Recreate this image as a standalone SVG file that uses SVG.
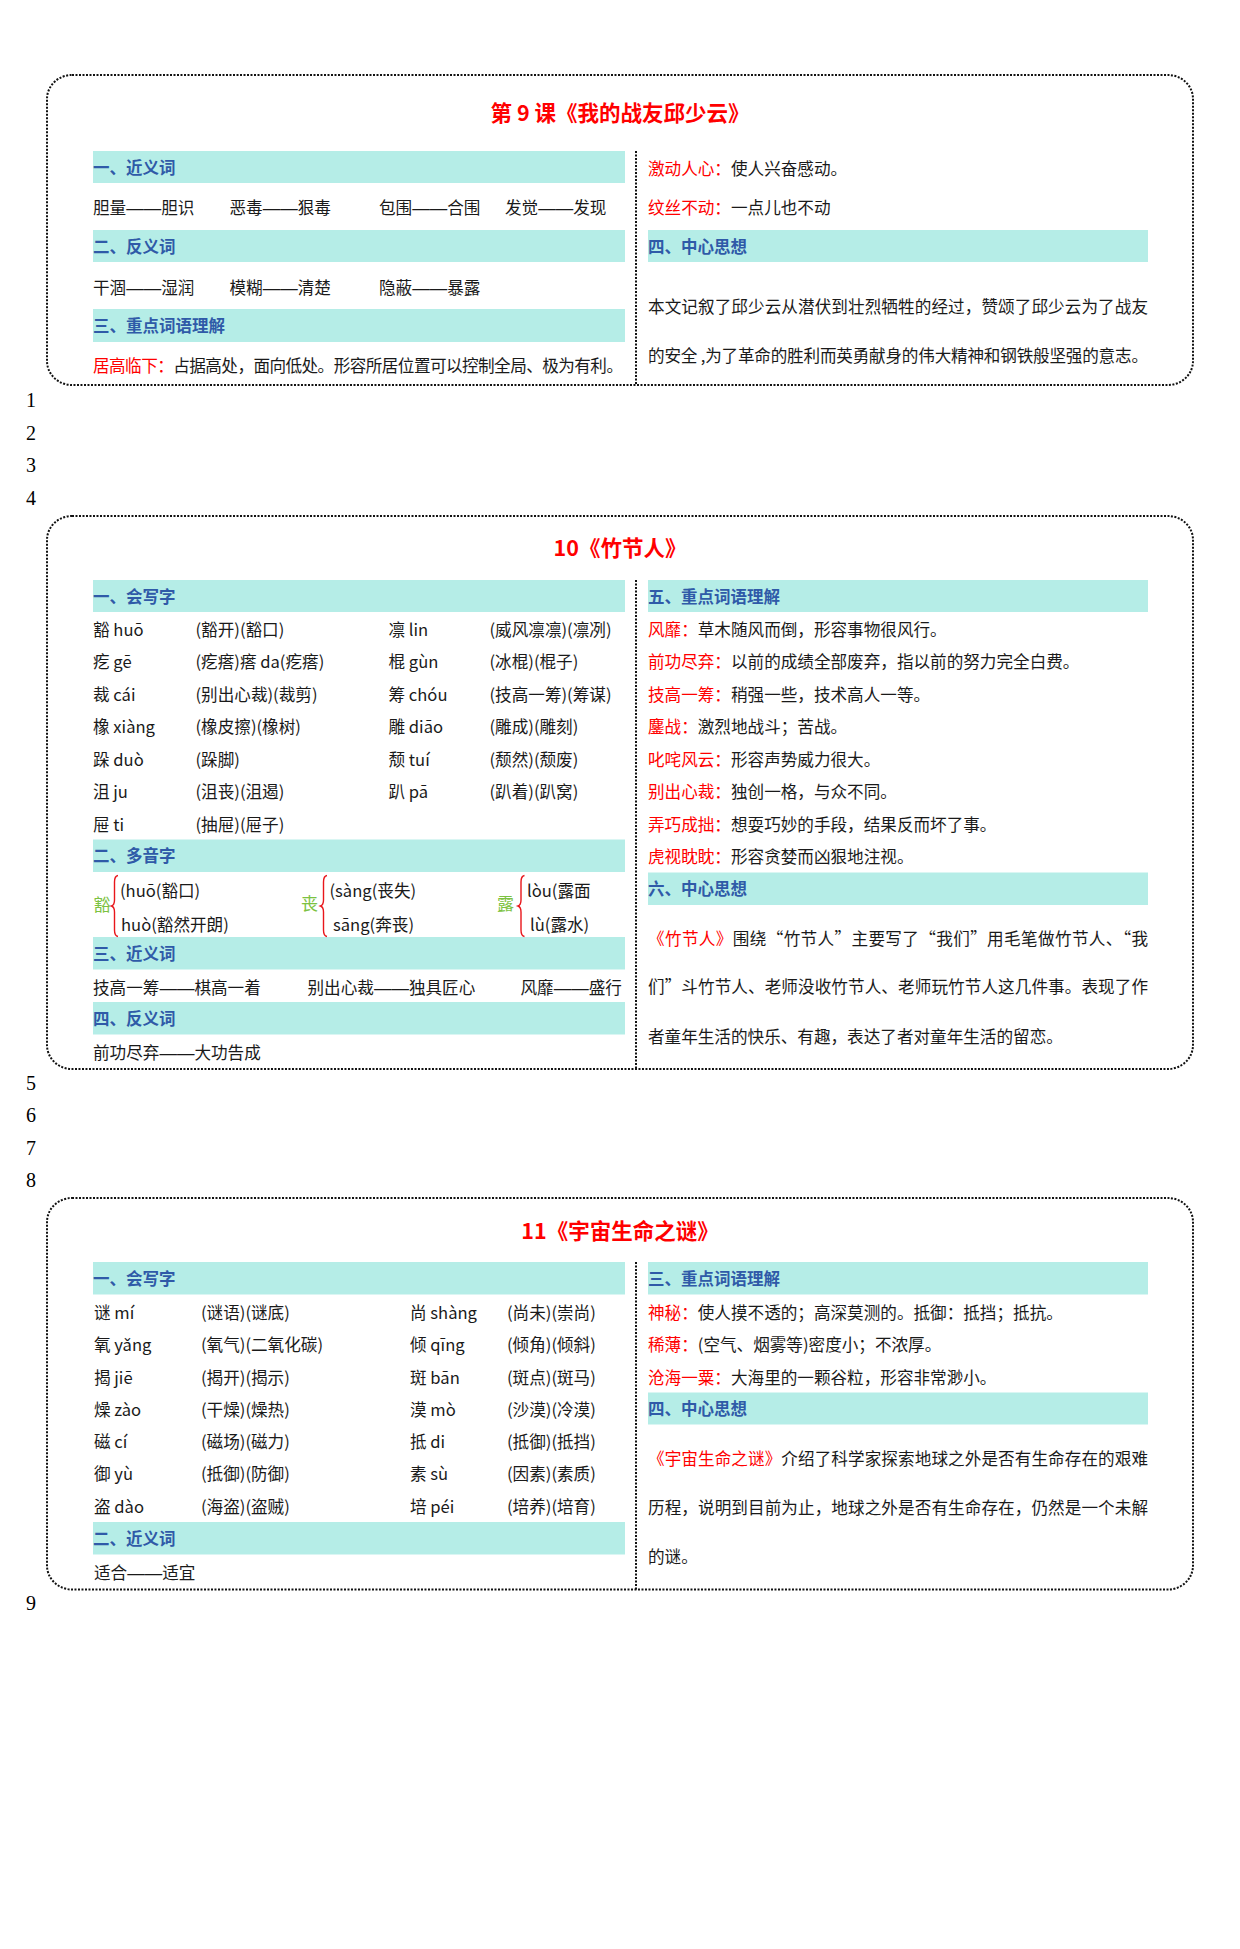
<svg xmlns="http://www.w3.org/2000/svg" width="1240" height="1949" viewBox="0 0 1240 1949">
<style>
text{font-family:"Noto Sans CJK SC","Noto Sans",sans-serif;font-size:16.6px;fill:#1a1a1a}
.d{font-family:"Liberation Sans",sans-serif;font-size:17.5px}
.h{font-weight:bold;fill:#2f5aa8;font-size:16.5px}
.r{fill:#ff0000}
.g{fill:#7cc242;font-size:17px}
.title{font-size:21.5px;font-weight:bold;fill:#ff0000;text-anchor:middle}
.band{fill:#b5ede7}
.box{fill:none;stroke:#111;stroke-width:2;stroke-dasharray:2 1.5}
.div{stroke:#111;stroke-width:2;stroke-dasharray:2 1.5}
.br{fill:none;stroke:#e8161b;stroke-width:1.4}
.pn{font-family:"Liberation Serif",serif;font-size:20px;fill:#000}
</style>
<rect width="1240" height="1949" fill="#fff"/>

<g id="page-numbers">
<text class="pn" x="26" y="407">1</text>
<text class="pn" x="26" y="439.5">2</text>
<text class="pn" x="26" y="472">3</text>
<text class="pn" x="26" y="504.5">4</text>
<text class="pn" x="26" y="1090">5</text>
<text class="pn" x="26" y="1122">6</text>
<text class="pn" x="26" y="1154.5">7</text>
<text class="pn" x="26" y="1187">8</text>
<text class="pn" x="26" y="1610">9</text>
</g>

<!-- Lesson 9 -->
<g id="lesson9">
<rect class="box" x="47" y="75" width="1146" height="310" rx="25" ry="24"/>
<line class="div" x1="636" y1="151" x2="636" y2="385"/>
<text class="title" x="620" y="120.5">第 9 课《我的战友邱少云》</text>
<rect class="band" x="93" y="151" width="532" height="32"/>
<rect class="band" x="93" y="230" width="532" height="32"/>
<rect class="band" x="93" y="309" width="532" height="33"/>
<rect class="band" x="648" y="230" width="500" height="32"/>
<text class="h" x="93" y="173.5">一、近义词</text>
<text x="93" y="214">胆量<tspan class="d">——</tspan>胆识</text>
<text x="229.5" y="214">恶毒<tspan class="d">——</tspan>狠毒</text>
<text x="379" y="214">包围<tspan class="d">——</tspan>合围</text>
<text x="505" y="214">发觉<tspan class="d">——</tspan>发现</text>
<text class="h" x="93" y="252.5">二、反义词</text>
<text x="93" y="294">干涸<tspan class="d">——</tspan>湿润</text>
<text x="229.5" y="294">模糊<tspan class="d">——</tspan>清楚</text>
<text x="379" y="294">隐蔽<tspan class="d">——</tspan>暴露</text>
<text class="h" x="93" y="332">三、重点词语理解</text>
<text x="93" y="372" textLength="530" lengthAdjust="spacing"><tspan class="r">居高临下：</tspan>占据高处，面向低处。形容所居位置可以控制全局、极为有利。</text>
<text x="648" y="174.5"><tspan class="r">激动人心：</tspan>使人兴奋感动。</text>
<text x="648" y="214"><tspan class="r">纹丝不动：</tspan>一点儿也不动</text>
<text class="h" x="648" y="252.5">四、中心思想</text>
<text x="648" y="313" textLength="500" lengthAdjust="spacing">本文记叙了邱少云从潜伏到壮烈牺牲的经过，赞颂了邱少云为了战友</text>
<text x="648" y="362" textLength="500" lengthAdjust="spacing">的安全 ,为了革命的胜利而英勇献身的伟大精神和钢铁般坚强的意志。</text>
</g>

<!-- Lesson 10 -->
<g id="lesson10">
<rect class="box" x="47" y="516" width="1146" height="553" rx="25" ry="24"/>
<line class="div" x1="636" y1="580" x2="636" y2="1069"/>
<text class="title" x="620" y="555.5">10《竹节人》</text>
<rect class="band" x="93" y="580" width="532" height="32"/>
<rect class="band" x="93" y="839.5" width="532" height="32.5"/>
<rect class="band" x="93" y="937" width="532" height="32.5"/>
<rect class="band" x="93" y="1002" width="532" height="32.5"/>
<rect class="band" x="648" y="580" width="500" height="32"/>
<rect class="band" x="648" y="872.5" width="500" height="32.5"/>

<text class="h" x="93" y="602.5">一、会写字</text>
<text x="93" y="635.5">豁 huō</text><text x="195.5" y="635.5">(豁开)(豁口)</text><text x="388.5" y="635.5">凛 lin</text><text x="489.5" y="635.5">(威风凛凛)(凛冽)</text>
<text x="93" y="668">疙 gē</text><text x="195.5" y="668">(疙瘩)瘩 da(疙瘩)</text><text x="388.5" y="668">棍 gùn</text><text x="489.5" y="668">(冰棍)(棍子)</text>
<text x="93" y="700.5">裁 cái</text><text x="195.5" y="700.5">(别出心裁)(裁剪)</text><text x="388.5" y="700.5">筹 chóu</text><text x="489.5" y="700.5">(技高一筹)(筹谋)</text>
<text x="93" y="733">橡 xiàng</text><text x="195.5" y="733">(橡皮擦)(橡树)</text><text x="388.5" y="733">雕 diāo</text><text x="489.5" y="733">(雕成)(雕刻)</text>
<text x="93" y="765.5">跺 duò</text><text x="195.5" y="765.5">(跺脚)</text><text x="388.5" y="765.5">颓 tuí</text><text x="489.5" y="765.5">(颓然)(颓废)</text>
<text x="93" y="798">沮 ju</text><text x="195.5" y="798">(沮丧)(沮遏)</text><text x="388.5" y="798">趴 pā</text><text x="489.5" y="798">(趴着)(趴窝)</text>
<text x="93" y="830.5">屉 ti</text><text x="195.5" y="830.5">(抽屉)(屉子)</text>

<text class="h" x="93" y="862">二、多音字</text>
<text class="g" x="93.5" y="911">豁</text>
<path class="br" d="M118,875.5 Q114.5,876 114.5,882 L114.5,900 Q114.5,905 111.5,906 Q114.5,907 114.5,912 L114.5,930 Q114.5,936 118,936.5"/>
<text x="120" y="897">(huō(豁口)</text>
<text x="121" y="930.5">huò(豁然开朗)</text>
<text class="g" x="301" y="909.5">丧</text>
<path class="br" d="M327,875.5 Q323.5,876 323.5,882 L323.5,900 Q323.5,905 320.5,906 Q323.5,907 323.5,912 L323.5,930 Q323.5,936 327,936.5"/>
<text x="329.5" y="897">(sàng(丧失)</text>
<text x="333" y="930.5">sāng(奔丧)</text>
<text class="g" x="497" y="909.5">露</text>
<path class="br" d="M524.5,875.5 Q521,876 521,882 L521,900 Q521,905 518,906 Q521,907 521,912 L521,930 Q521,936 524.5,936.5"/>
<text x="527" y="897">lòu(露面</text>
<text x="530" y="930.5">lù(露水)</text>

<text class="h" x="93" y="959.5">三、近义词</text>
<text x="93" y="993.5">技高一筹<tspan class="d">——</tspan>棋高一着</text>
<text x="307.5" y="993.5">别出心裁<tspan class="d">——</tspan>独具匠心</text>
<text x="520.5" y="993.5">风靡<tspan class="d">——</tspan>盛行</text>
<text class="h" x="93" y="1024.5">四、反义词</text>
<text x="93" y="1058.5">前功尽弃<tspan class="d">——</tspan>大功告成</text>

<text class="h" x="648" y="602.5">五、重点词语理解</text>
<text x="648" y="635.5"><tspan class="r">风靡：</tspan>草木随风而倒，形容事物很风行。</text>
<text x="648" y="668"><tspan class="r">前功尽弃：</tspan>以前的成绩全部废弃，指以前的努力完全白费。</text>
<text x="648" y="700.5"><tspan class="r">技高一筹：</tspan>稍强一些，技术高人一等。</text>
<text x="648" y="733"><tspan class="r">鏖战：</tspan>激烈地战斗；苦战。</text>
<text x="648" y="765.5"><tspan class="r">叱咤风云：</tspan>形容声势威力很大。</text>
<text x="648" y="798"><tspan class="r">别出心裁：</tspan>独创一格，与众不同。</text>
<text x="648" y="830.5"><tspan class="r">弄巧成拙：</tspan>想耍巧妙的手段，结果反而坏了事。</text>
<text x="648" y="863"><tspan class="r">虎视眈眈：</tspan>形容贪婪而凶狠地注视。</text>
<text class="h" x="648" y="895">六、中心思想</text>
<text x="648" y="944.5" textLength="500" lengthAdjust="spacing"><tspan class="r">《竹节人》</tspan>围绕“竹节人”主要写了“我们”用毛笔做竹节人、“我</text>
<text x="648" y="993" textLength="500" lengthAdjust="spacing">们”斗竹节人、老师没收竹节人、老师玩竹节人这几件事。表现了作</text>
<text x="648" y="1043">者童年生活的快乐、有趣，表达了者对童年生活的留恋。</text>
</g>

<!-- Lesson 11 -->
<g id="lesson11">
<rect class="box" x="47" y="1198" width="1146" height="391.5" rx="25" ry="24"/>
<line class="div" x1="636" y1="1262" x2="636" y2="1589.5"/>
<text class="title" x="620" y="1239">11《宇宙生命之谜》</text>
<rect class="band" x="93" y="1262" width="532" height="32.5"/>
<rect class="band" x="93" y="1522" width="532" height="32.5"/>
<rect class="band" x="648" y="1262" width="500" height="32.5"/>
<rect class="band" x="648" y="1392.5" width="500" height="32"/>

<text class="h" x="93" y="1284.5">一、会写字</text>
<text x="94" y="1319">谜 mí</text><text x="201" y="1319">(谜语)(谜底)</text><text x="410" y="1319">尚 shàng</text><text x="507" y="1319">(尚未)(崇尚)</text>
<text x="94" y="1351">氧 yǎng</text><text x="201" y="1351">(氧气)(二氧化碳)</text><text x="410" y="1351">倾 qīng</text><text x="507" y="1351">(倾角)(倾斜)</text>
<text x="94" y="1383.5">揭 jiē</text><text x="201" y="1383.5">(揭开)(揭示)</text><text x="410" y="1383.5">斑 bān</text><text x="507" y="1383.5">(斑点)(斑马)</text>
<text x="94" y="1415.5">燥 zào</text><text x="201" y="1415.5">(干燥)(燥热)</text><text x="410" y="1415.5">漠 mò</text><text x="507" y="1415.5">(沙漠)(冷漠)</text>
<text x="94" y="1448">磁 cí</text><text x="201" y="1448">(磁场)(磁力)</text><text x="410" y="1448">抵 di</text><text x="507" y="1448">(抵御)(抵挡)</text>
<text x="94" y="1480">御 yù</text><text x="201" y="1480">(抵御)(防御)</text><text x="410" y="1480">素 sù</text><text x="507" y="1480">(因素)(素质)</text>
<text x="94" y="1512.5">盗 dào</text><text x="201" y="1512.5">(海盗)(盗贼)</text><text x="410" y="1512.5">培 péi</text><text x="507" y="1512.5">(培养)(培育)</text>
<text class="h" x="93" y="1544.5">二、近义词</text>
<text x="94" y="1578.5">适合<tspan class="d">——</tspan>适宜</text>

<text class="h" x="648" y="1284.5">三、重点词语理解</text>
<text x="648" y="1319"><tspan class="r">神秘：</tspan>使人摸不透的；高深莫测的。抵御：抵挡；抵抗。</text>
<text x="648" y="1351"><tspan class="r">稀薄：</tspan>(空气、烟雾等)密度小；不浓厚。</text>
<text x="648" y="1383.5"><tspan class="r">沧海一粟：</tspan>大海里的一颗谷粒，形容非常渺小。</text>
<text class="h" x="648" y="1414.5">四、中心思想</text>
<text x="648" y="1464.5" textLength="500" lengthAdjust="spacing"><tspan class="r">《宇宙生命之谜》</tspan>介绍了科学家探索地球之外是否有生命存在的艰难</text>
<text x="648" y="1514" textLength="500" lengthAdjust="spacing">历程，说明到目前为止，地球之外是否有生命存在，仍然是一个未解</text>
<text x="648" y="1563">的谜。</text>
</g>
</svg>
